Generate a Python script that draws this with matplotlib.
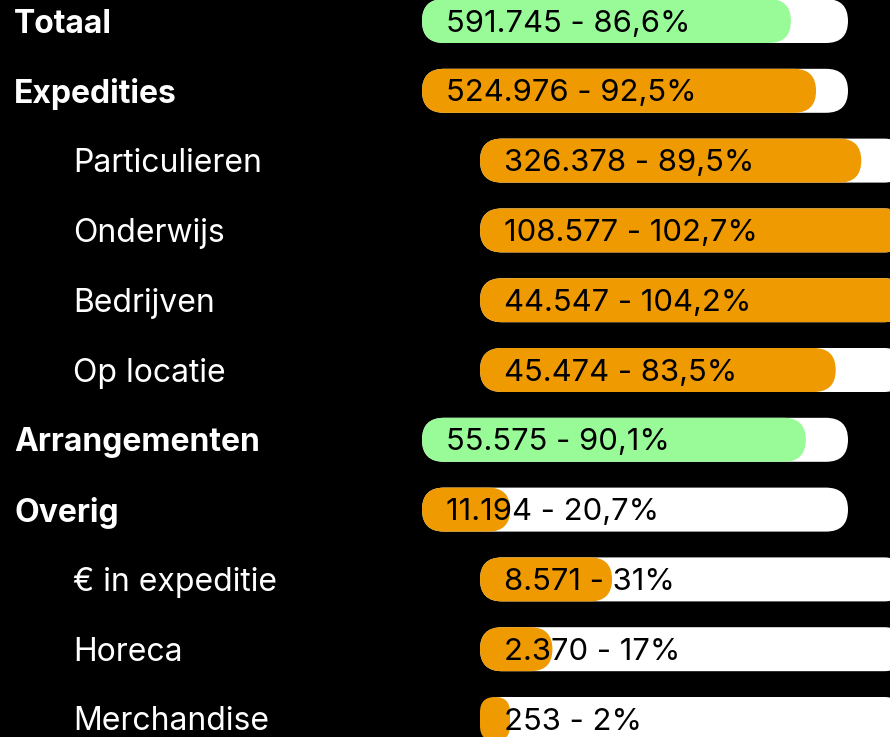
import matplotlib.pyplot as plt
from matplotlib.patches import FancyBboxPatch

plt.rcParams['font.family'] = ['Inter', 'DejaVu Sans']

labels = ['Totaal', 'Expedities', 'Particulieren', 'Onderwijs', 'Bedrijven', 'Op locatie',
          'Arrangementen', 'Overig', '€ in expeditie', 'Horeca', 'Merchandise']
amounts = ['591.745', '524.976', '326.378', '108.577', '44.547', '45.474',
           '55.575', '11.194', '8.571', '2.370', '253']
percents = [86.6, 92.5, 89.5, 102.7, 104.2, 83.5, 90.1, 20.7, 31, 17, 2]
pct_labels = ['86,6%', '92,5%', '89,5%', '102,7%', '104,2%', '83,5%',
              '90,1%', '20,7%', '31%', '17%', '2%']
is_main = [True, True, False, False, False, False, True, True, False, False, False]
is_green = [True, False, False, False, False, False, True, False, False, False, False]

W, H = 890, 737
fig = plt.figure(figsize=(W / 100, H / 100), dpi=100, facecolor='black')
ax = fig.add_axes([0, 0, 1, 1])
ax.set_xlim(0, W)
ax.set_ylim(H, 0)
ax.set_facecolor('black')
ax.axis('off')

track_w = 426
bar_h = 44
r = bar_h / 2

for i, lab in enumerate(labels):
    y = 21 + i * 69.8
    x0 = 422 if is_main[i] else 480
    # label
    if is_main[i]:
        ax.text(14, y + 3, lab, color='white', fontsize=23, fontweight='bold', va='center', ha='left')
    else:
        ax.text(73, y + 3, lab, color='white', fontsize=23, va='center', ha='left')
    # track
    ax.add_patch(FancyBboxPatch((x0, y - r), track_w, bar_h,
                                boxstyle='round,pad=0,rounding_size=%g' % r,
                                fc='white', ec='none', zorder=1))
    # fill
    fw = max(min(percents[i], 100) / 100 * track_w, 30)
    ax.add_patch(FancyBboxPatch((x0, y - r), fw, bar_h,
                                boxstyle='round,pad=0,rounding_size=%g' % min(r, fw / 2),
                                fc='#98fb98' if is_green[i] else '#ee9a00', ec='none', zorder=2))
    ax.text(x0 + 24, y + 2.5, amounts[i] + ' - ' + pct_labels[i], color='black', fontsize=22.3,
            va='center', ha='left', zorder=3)

fig.savefig('out.png', dpi=100, facecolor='black')
